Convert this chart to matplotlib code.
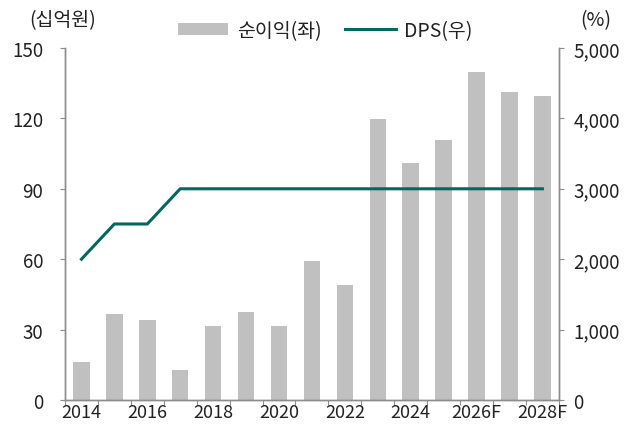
import matplotlib
matplotlib.use("Agg")
import matplotlib.pyplot as plt
from matplotlib.patches import Patch
from matplotlib.lines import Line2D

plt.rcParams['font.family'] = ['Noto Sans CJK KR', 'DejaVu Sans']

years = ['2014', '2015', '2016', '2017', '2018', '2019', '2020', '2021', '2022',
         '2023', '2024', '2025', '2026F', '2027F', '2028F']
net_income = [16.2, 36.6, 34.1, 12.8, 31.7, 37.4, 31.5, 59.2, 48.9,
              119.7, 100.8, 111.0, 139.8, 131.4, 129.5]
dps = [2000, 2500, 2500, 3000, 3000, 3000, 3000, 3000, 3000,
       3000, 3000, 3000, 3000, 3000, 3000]
left_ticks = [0, 30, 60, 90, 120, 150]
right_ticks = [0, 1000, 2000, 3000, 4000, 5000]

bar_color = '#c0c0c0'
line_color = '#00695f'
spine_color = '#8c8c8c'
text_color = '#222222'
fs = 13.5
fs_leg = 14

fig = plt.figure(figsize=(6.34, 4.27), dpi=100)
ax = fig.add_axes([0.1025, 0.0609, 0.779, 0.8244])
ax2 = ax.twinx()

x = list(range(len(years)))
ax.bar(x, net_income, width=0.5, color=bar_color, zorder=2)
ax2.plot(x, dps, color=line_color, lw=2.2, zorder=3)

ax.set_xlim(-0.5, len(years) - 0.5)
ax.set_ylim(0, 150)
ax2.set_ylim(0, 5000)
ax.set_yticks(left_ticks)
ax.set_yticklabels([str(v) for v in left_ticks])
ax2.set_yticks(right_ticks)
ax2.set_yticklabels([f"{v:,}" for v in right_ticks])

ax.set_xticks([i - 0.5 for i in range(len(years) + 1)])
ax.set_xticklabels([])
ax.set_xticks(x[::2], minor=True)
ax.set_xticklabels(years[::2], minor=True)
ax.tick_params(axis='x', which='minor', length=0, pad=2.5, labelsize=13, colors=text_color)
ax.tick_params(axis='x', which='major', length=3.6, color=spine_color, direction='out')
ax.tick_params(axis='y', length=3.6, color=spine_color, labelsize=fs, labelcolor=text_color, pad=12)
ax2.tick_params(axis='y', length=3.6, color=spine_color, labelsize=fs, labelcolor=text_color, pad=7)

for a in (ax, ax2):
    a.spines['top'].set_visible(False)
    for s in ('left', 'right', 'bottom'):
        a.spines[s].set_color(spine_color)
        a.spines[s].set_linewidth(1.0)

fig.text(0.098, 0.952, '(십억원)', fontsize=fs_leg, color=text_color, ha='center', va='center')
fig.text(0.94, 0.952, '(%)', fontsize=fs_leg, color=text_color, ha='center', va='center')

handles = [Patch(facecolor=bar_color, edgecolor='none'),
           Line2D([0], [0], color=line_color, lw=2.2)]
fig.legend(handles, ['순이익(좌)', 'DPS(우)'], loc='center', bbox_to_anchor=(0.513, 0.927),
           ncol=2, frameon=False, fontsize=fs_leg, handlelength=2.6, handleheight=0.6,
           columnspacing=1.2, handletextpad=0.45, labelcolor=text_color,
           borderpad=0, borderaxespad=0)

fig.savefig('out.png', dpi=100)
